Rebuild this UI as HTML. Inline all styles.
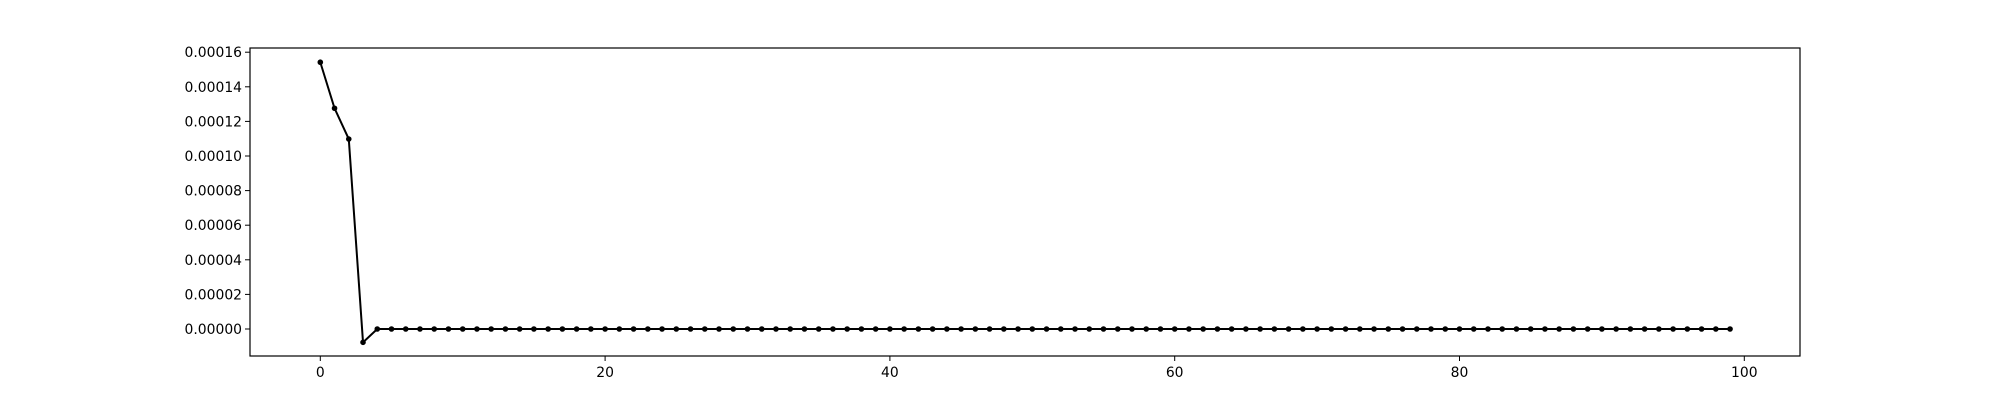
<!DOCTYPE html>
<html><head><meta charset="utf-8"><style>
html,body{margin:0;padding:0;background:#fff;width:2000px;height:400px;overflow:hidden}
text{font-family:"DejaVu Sans","Liberation Sans",sans-serif;font-size:13.9px;fill:#000}
</style></head><body>
<svg id="chart" width="2000" height="400" xmlns="http://www.w3.org/2000/svg"></svg>
<script>
const head = [0.0001542, 0.0001276, 0.0001098, -0.0000077];
const tailCount = 96;
const tailValue = 0;
const xTicks = [0, 20, 40, 60, 80, 100];
const yTicks = [0, 0.00002, 0.00004, 0.00006, 0.00008, 0.00010, 0.00012, 0.00014, 0.00016];
const yTickLabels = ["0.00000","0.00002","0.00004","0.00006","0.00008","0.00010","0.00012","0.00014","0.00016"];

const values = head.concat(new Array(tailCount).fill(tailValue));
const L=250,R=1800,T=48,B=356;
const xs = i => 320.3 + i*14.24;
const ys = v => 329 - v/0.00002*34.6;
const svg = document.getElementById('chart');
const NS='http://www.w3.org/2000/svg';
function mk(tag, attrs, parent){const e=document.createElementNS(NS,tag);for(const k in attrs)e.setAttribute(k,attrs[k]);(parent||svg).appendChild(e);return e;}

const frame = mk('rect',{x:L,y:T,width:R-L,height:B-T,fill:'none',stroke:'#000','stroke-width':1.2});



xTicks.forEach((t)=>{
  const g=mk('g',{});
  
  
  mk('line',{x1:xs(t),x2:xs(t),y1:B,y2:B+5,stroke:'#000','stroke-width':1},g);
  const tx=mk('text',{x:xs(t),y:B+21,'text-anchor':'middle'},g);tx.textContent=String(t);
});
yTicks.forEach((t,i)=>{
  const g=mk('g',{});
  
  
  mk('line',{x1:L-5,x2:L,y1:ys(t),y2:ys(t),stroke:'#000','stroke-width':1},g);
  const tx=mk('text',{x:L-8,y:ys(t)+5,'text-anchor':'end'},g);tx.textContent=yTickLabels[i];
});

const pts = values.map((v,i)=>xs(i)+','+ys(v)).join(' ');
const line = mk('polyline',{points:pts,fill:'none',stroke:'#000','stroke-width':2});


values.forEach((v,i)=>{
  const c=mk('circle',{cx:xs(i),cy:ys(v),r:2.8,fill:'#000'});
  
  
});
</script>
</body></html>
